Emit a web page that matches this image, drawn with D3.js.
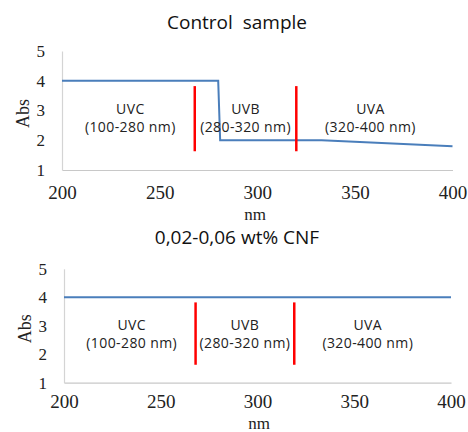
<!DOCTYPE html>
<html><head><meta charset="utf-8">
<script src="https://cdn.jsdelivr.net/npm/d3@7"></script>
<style>body{margin:0;background:#fff}svg{display:block}</style>
</head><body>
<svg id="c" width="468" height="432"></svg>
<script>
// ---- data ----
const titles = ["Control  sample", "0,02-0,06 wt% CNF"];
const xTicks = [200, 250, 300, 350, 400];
const yTicks = [1, 2, 3, 4, 5];
const controlX = [200, 280, 281, 333, 400];
const controlY = [4, 4, 2, 2, 1.8];
const cnfX = [200, 400];
const cnfY = [4, 4];
const bandNames = ["UVC", "UVB", "UVA"];
const bandRanges = ["(100-280 nm)", "(280-320 nm)", "(320-400 nm)"];
const bandCentersTop = [235, 294, 358];
const bandCentersBottom = [235, 293.5, 357];
const dividersTop = [268, 320];
const dividersBottom = [268, 319];
const dividerSpan = [1.63, 3.82];
const xLabel = "nm", yLabel = "Abs";

const panels = [
  {title: titles[0], xs: controlX, ys: controlY, centers: bandCentersTop, div: dividersTop,
   x0: 62, x1: 452.5, yTop: 51, yBot: 170, titleY: 29, xLabY: 220, xLabX: 255, yLabX: 29, tickY: 192},
  {title: titles[1], xs: cnfX, ys: cnfY, centers: bandCentersBottom, div: dividersBottom,
   x0: 64, x1: 451, yTop: 268.8, yBot: 382.7, titleY: 244, xLabY: 429, xLabX: 259, yLabX: 31, tickY: 401}
];

const svg = d3.select("#c");
const serif = "'Liberation Serif','Times New Roman',serif";
const sans = "'Open Sans','Liberation Sans',sans-serif";

panels.forEach(p => {
  const x = d3.scaleLinear().domain([200, 400]).range([p.x0, p.x1]);
  const y = d3.scaleLinear().domain([1, 5]).range([p.yBot, p.yTop]);
  const g = svg.append("g");

  // axes
  const xa = g.append("g").attr("transform", `translate(0,${p.yBot})`)
    .call(d3.axisBottom(x).tickValues(xTicks).tickSize(0).tickPadding(0).tickFormat(d3.format("d")));
  xa.select(".domain").attr("stroke", "#c8c8c8").attr("stroke-width", 1.2);
  xa.selectAll("text").attr("font-family", serif).attr("font-size", 19).attr("fill", "#222")
    .attr("y", p.tickY - p.yBot).attr("dy", "0.35em");

  const ya = g.append("g").attr("transform", `translate(${p.x0},0)`)
    .call(d3.axisLeft(y).tickValues(yTicks).tickSize(0).tickPadding(17).tickFormat(d3.format("d")));
  ya.select(".domain").attr("stroke", "#d4d4d4").attr("stroke-width", 1.2);
  ya.selectAll("text").attr("font-family", serif).attr("font-size", 17).attr("fill", "#222");

  // series
  const pts = p.xs.map((v, i) => [v, p.ys[i]]);
  g.append("path").datum(pts)
    .attr("d", d3.line().x(d => x(d[0])).y(d => y(d[1])))
    .attr("fill", "none").attr("stroke", "#4a7ebb").attr("stroke-width", 2);

  // red dividers
  g.selectAll("line.div").data(p.div).join("line")
    .attr("x1", d => x(d)).attr("x2", d => x(d))
    .attr("y1", y(dividerSpan[1])).attr("y2", y(dividerSpan[0]))
    .attr("stroke", "#ff0000").attr("stroke-width", 2.5);

  // band labels
  bandNames.forEach((n, i) => {
    g.append("text").attr("x", x(p.centers[i])).attr("y", y(3) - 1).attr("dy", "0.35em")
      .attr("text-anchor", "middle").attr("font-family", sans).attr("font-size", 14)
      .attr("letter-spacing", 0.4).attr("fill", "#222").text(n);
    g.append("text").attr("x", x(p.centers[i])).attr("y", y(3) + 17).attr("dy", "0.35em")
      .attr("text-anchor", "middle").attr("font-family", sans).attr("font-size", 14)
      .attr("letter-spacing", 0.4).attr("fill", "#222").text(bandRanges[i]);
  });

  // titles
  g.append("text").attr("x", 237).attr("y", p.titleY).attr("text-anchor", "middle")
    .attr("font-family", sans).attr("font-size", 19).attr("fill", "#111").attr("xml:space", "preserve")
    .style("white-space", "pre").text(p.title);
  g.append("text").attr("x", p.xLabX).attr("y", p.xLabY).attr("text-anchor", "middle")
    .attr("font-family", serif).attr("font-size", 17).attr("fill", "#222").text(xLabel);
  g.append("text").attr("transform", `translate(${p.yLabX},${(p.yTop + p.yBot) / 2 + 3}) rotate(-90)`)
    .attr("text-anchor", "middle").attr("font-family", serif).attr("font-size", 18).attr("fill", "#222").text(yLabel);
});
</script>
</body></html>
